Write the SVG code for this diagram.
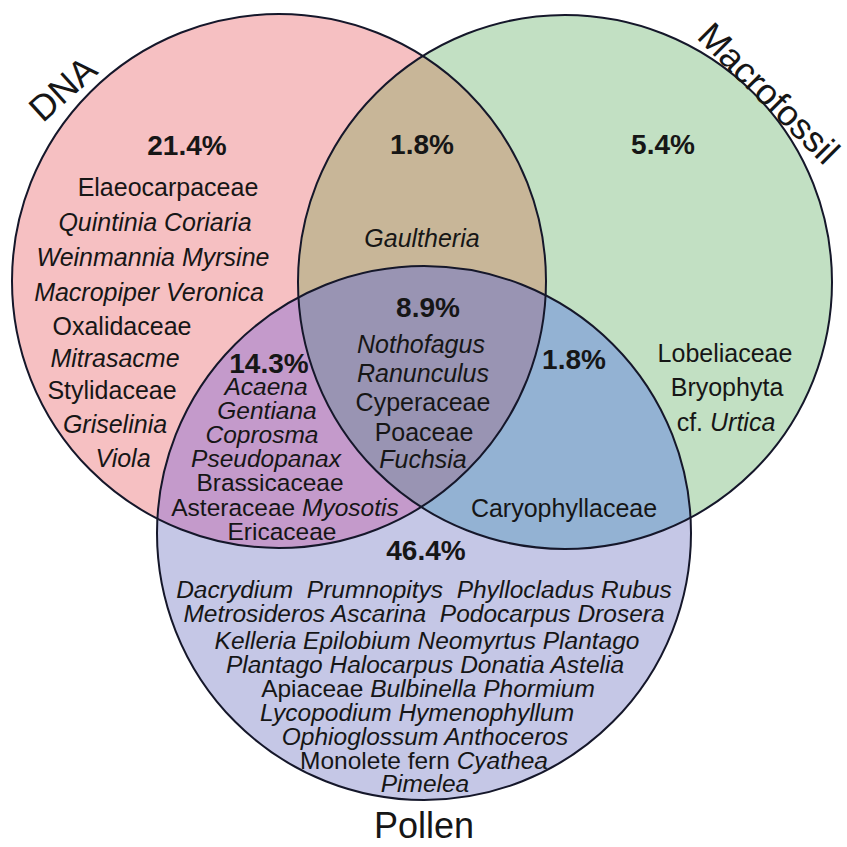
<svg xmlns="http://www.w3.org/2000/svg" width="847" height="847" viewBox="0 0 847 847">
<style>
text{font-family:"Liberation Sans",Arial,sans-serif;font-size:25px;fill:#161616;text-anchor:middle}
.i{font-style:italic}
.pc{font-weight:bold;font-size:28px}
.lab{font-size:36px}
.tight text{font-size:24.5px}
.tight text.pc{font-size:28px}
.ol{fill:none;stroke:#15172a;stroke-width:2}
</style>
<defs>
<clipPath id="cD"><circle cx="279" cy="281" r="267"/></clipPath>
<clipPath id="cM"><circle cx="565" cy="282" r="267"/></clipPath>
</defs>
<rect width="847" height="847" fill="#ffffff"/>
<g id="fills">
<circle cx="279" cy="281" r="267" fill="#F6C0C2"/>
<circle cx="565" cy="282" r="267" fill="#C2E0C3"/>
<circle cx="424" cy="533" r="267" fill="#C5C7E6"/>
<circle cx="565" cy="282" r="267" fill="#C8B698" clip-path="url(#cD)"/>
<circle cx="424" cy="533" r="267" fill="#C49ACB" clip-path="url(#cD)"/>
<circle cx="424" cy="533" r="267" fill="#93B2D3" clip-path="url(#cM)"/>
<g clip-path="url(#cD)"><circle cx="424" cy="533" r="267" fill="#9994B3" clip-path="url(#cM)"/></g>
</g>
<g id="dna">
<circle class="ol" cx="279" cy="281" r="267"/>
<text class="lab" transform="translate(71,98) rotate(-42)">DNA</text>
</g>
<g id="macrofossil">
<circle class="ol" cx="565" cy="282" r="267"/>
<text class="lab" transform="translate(760,102) rotate(45)">Macrofossil</text>
</g>
<g id="pollen">
<circle class="ol" cx="424" cy="533" r="267"/>
<text class="lab" x="424" y="838">Pollen</text>
</g>
<g id="dna-only">
<text class="pc" x="187" y="155">21.4%</text>
<text x="168" y="196">Elaeocarpaceae</text>
<text class="i" x="155" y="231">Quintinia Coriaria</text>
<text class="i" x="153" y="266">Weinmannia Myrsine</text>
<text class="i" x="149" y="301">Macropiper Veronica</text>
<text x="122" y="335">Oxalidaceae</text>
<text class="i" x="115" y="367">Mitrasacme</text>
<text x="112" y="399">Stylidaceae</text>
<text class="i" x="115" y="433">Griselinia</text>
<text class="i" x="123" y="467">Viola</text>
</g>
<g id="dna-macrofossil">
<text class="pc" x="422" y="154">1.8%</text>
<text class="i" x="422" y="247">Gaultheria</text>
</g>
<g id="macrofossil-only">
<text class="pc" x="663" y="154">5.4%</text>
<text x="725" y="362">Lobeliaceae</text>
<text x="727" y="396">Bryophyta</text>
<text x="726" y="431">cf. <tspan class="i">Urtica</tspan></text>
</g>
<g id="all-three">
<text class="pc" x="428" y="317">8.9%</text>
<text class="i" x="421" y="353">Nothofagus</text>
<text class="i" x="423" y="382">Ranunculus</text>
<text x="423" y="411">Cyperaceae</text>
<text x="424" y="441">Poaceae</text>
<text class="i" x="423" y="468">Fuchsia</text>
</g>
<g id="macrofossil-pollen">
<text class="pc" x="574" y="369">1.8%</text>
<text x="564" y="517">Caryophyllaceae</text>
</g>
<g id="dna-pollen" class="tight">
<text class="pc" x="269" y="373">14.3%</text>
<text class="i" x="266" y="395">Acaena</text>
<text class="i" x="267" y="419">Gentiana</text>
<text class="i" x="262" y="443">Coprosma</text>
<text class="i" x="266" y="467">Pseudopanax</text>
<text x="270" y="491">Brassicaceae</text>
<text x="285" y="516">Asteraceae <tspan class="i">Myosotis</tspan></text>
<text x="282" y="540">Ericaceae</text>
</g>
<g id="pollen-only" class="tight">
<text class="pc" x="426" y="560">46.4%</text>
<text class="i" x="424" y="598" xml:space="preserve">Dacrydium  Prumnopitys  Phyllocladus Rubus</text>
<text class="i" x="424" y="622" xml:space="preserve">Metrosideros Ascarina  Podocarpus Drosera</text>
<text class="i" x="427" y="649">Kelleria Epilobium Neomyrtus Plantago</text>
<text class="i" x="425" y="673">Plantago Halocarpus Donatia Astelia</text>
<text x="428" y="697">Apiaceae <tspan class="i">Bulbinella Phormium</tspan></text>
<text class="i" x="417" y="721">Lycopodium Hymenophyllum</text>
<text class="i" x="425" y="745">Ophioglossum Anthoceros</text>
<text x="424" y="769">Monolete fern <tspan class="i">Cyathea</tspan></text>
<text class="i" x="425" y="792">Pimelea</text>
</g>
<g id="connectors"/>
</svg>
